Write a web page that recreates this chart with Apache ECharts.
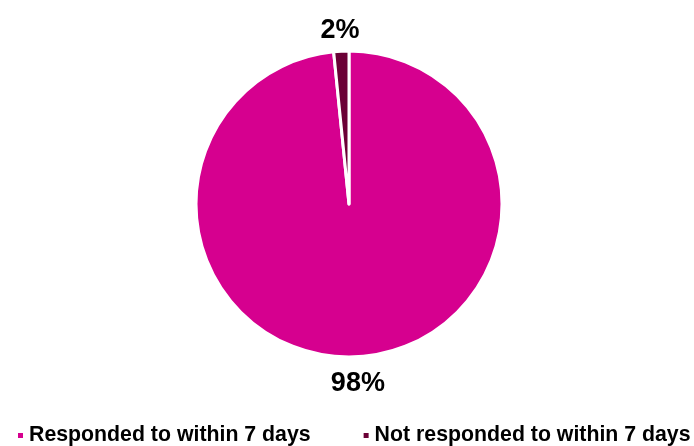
<!DOCTYPE html>
<html><head><meta charset="utf-8">
<script src="https://cdn.jsdelivr.net/npm/echarts@6/dist/echarts.min.js"></script>
<style>html,body{margin:0;padding:0;background:#fff}#c{width:694px;height:446px}</style>
</head><body><div id="c"></div>
<script>
const categories = ["Responded to within 7 days", "Not responded to within 7 days"];
const values = [98.4, 1.6];
const colors = ["#D6008F", "#6B0036"];

const chart = echarts.init(document.getElementById('c'), null, {renderer: 'canvas'});
chart.setOption({
  animation: false,
  color: colors,
  legend: {
    bottom: 0,
    left: 16,
    width: 690,
    padding: 0,
    itemWidth: 7, itemHeight: 7, itemGap: 51,
    icon: 'rect',
    textStyle: {fontFamily: 'Liberation Sans', fontWeight: 'bold', fontSize: 21.3, color: '#000'},
    data: categories
  },
  series: [{
    type: 'pie',
    center: [349, 204],
    radius: 153,
    startAngle: 90,
    clockwise: true,
    itemStyle: {borderColor: '#fff', borderWidth: 3},
    label: {
      show: true, position: 'outside', distanceToLabelLine: 0,
      formatter: p => Math.round(p.value) + '%',
      fontFamily: 'Liberation Sans', fontWeight: 'bold', fontSize: 27, color: '#000'
    },
    labelLine: {show: false, length: 24, length2: 0},
    labelLayout: {align: 'center', verticalAlign: 'middle', dy: 3},
    data: categories.map((c, i) => ({name: c, value: values[i]}))
  }]
});
</script></body></html>
